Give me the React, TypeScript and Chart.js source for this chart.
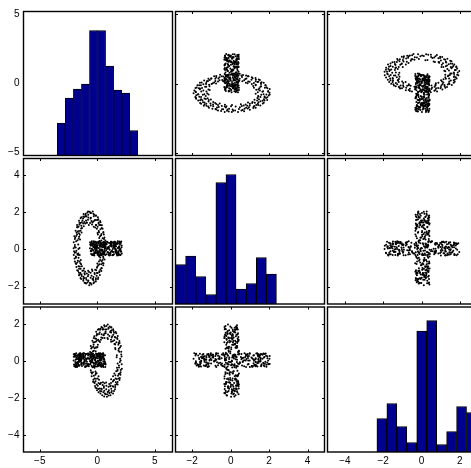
import React, { useEffect, useRef } from 'react';
import { Chart, registerables } from 'chart.js';

Chart.register(...registerables);

// ---------- tick labels / axis limits ----------
const COL_TICKS = [[-5, 0, 5], [-2, 0, 2, 4], [-4, -2, 0, 2]];
const ROW_TICKS = [[-5, 0, 5], [-2, 0, 2, 4], [-4, -2, 0, 2]];
const COL_LIMITS = [[-6.42, 6.54], [-2.87, 4.88], [-4.91, 2.87]];
const ROW_LIMITS = [[-5.2, 5.2], [-2.94, 4.88], [-4.91, 2.91]];

// ---------- histograms (diagonal) ----------
const HIST1_CENTERS = [-3.13, -2.43, -1.73, -1.03, -0.33, 0.37, 1.07, 1.77, 2.47, 3.17];
const HIST1_COUNTS = [65, 115, 133, 143, 250, 250, 179, 131, 125, 50];
const HIST2_CENTERS = [-2.6075, -2.0825, -1.5575, -1.0325, -0.5075, 0.0175, 0.5425, 1.0675, 1.5925, 2.1175];
const HIST2_COUNTS = [79, 96, 55, 19, 243, 259, 30, 41, 93, 60];
const HIST3_CENTERS = [-2.07, -1.55, -1.03, -0.51, 0.01, 0.53, 1.05, 1.57, 2.09, 2.61];
const HIST3_COUNTS = [67, 97, 51, 19, 242, 263, 15, 41, 91, 79];
const HIST_MAX = [288, 291, 290];

// ---------- scatter data: ring A  [X2, X1] pairs + X3 ----------
const RING_A: number[][] = [
  [2.02,-0.66],[1.86,-0.79],[1.41,-0.63],[1.95,-0.55],[1.30,-0.74],
  [2.03,-0.40],[1.69,-0.56],[1.33,-0.46],[1.78,-0.31],[1.52,-0.51],
  [1.86,-0.27],[1.55,-0.24],[1.21,-0.31],[1.80,-0.12],[1.49,-0.35],
  [1.72,0.05],[1.58,-0.03],[1.17,-0.18],[1.61,0.09],[1.30,-0.13],
  [1.52,0.25],[1.39,0.11],[1.10,-0.04],[1.44,0.12],[1.21,0.03],
  [1.29,0.40],[1.08,0.27],[0.99,0.12],[1.31,0.29],[0.88,0.02],
  [1.10,0.46],[0.82,0.36],[0.79,0.05],[0.93,0.53],[0.70,0.24],
  [0.80,0.57],[0.59,0.47],[0.61,0.17],[0.64,0.62],[0.45,0.19],
  [0.47,0.70],[0.29,0.52],[0.37,0.29],[0.33,0.61],[0.24,0.39],
  [0.08,0.72],[0.17,0.57],[-0.02,0.25],[0.01,0.64],[0.14,0.22],
  [-0.31,0.69],[-0.14,0.47],[-0.23,0.28],[-0.18,0.60],[-0.27,0.37],
  [-0.55,0.63],[-0.58,0.45],[-0.44,0.26],[-0.47,0.53],[-0.39,0.16],
  [-0.86,0.52],[-0.80,0.34],[-0.66,0.14],[-0.75,0.45],[-0.58,0.24],
  [-1.16,0.35],[-1.09,0.26],[-0.86,0.08],[-1.02,0.37],[-0.76,0.00],
  [-1.38,0.22],[-1.27,0.03],[-0.99,-0.03],[-1.24,0.17],[-1.12,-0.09],
  [-1.60,0.06],[-1.42,-0.06],[-1.10,-0.19],[-1.55,-0.12],[-1.27,-0.24],
  [-1.77,-0.28],[-1.49,-0.33],[-1.16,-0.43],[-1.73,-0.13],[-1.09,-0.47],
  [-1.89,-0.51],[-1.60,-0.42],[-1.26,-0.58],[-1.66,-0.35],[-1.42,-0.50],
  [-1.93,-0.70],[-1.68,-0.78],[-1.22,-0.72],[-1.81,-0.64],[-1.15,-0.80],
  [-1.84,-0.98],[-1.63,-0.95],[-1.30,-0.91],[-1.79,-0.85],[-1.45,-0.82],
  [-1.80,-1.11],[-1.54,-1.14],[-1.20,-1.06],[-1.69,-1.22],[-1.36,-1.09],
  [-1.59,-1.40],[-1.47,-1.21],[-1.14,-1.20],[-1.44,-1.36],[-1.03,-1.15],
  [-1.40,-1.60],[-1.27,-1.47],[-0.91,-1.34],[-1.36,-1.52],[-1.15,-1.30],
  [-1.13,-1.75],[-1.04,-1.59],[-0.81,-1.41],[-1.17,-1.67],[-0.92,-1.52],
  [-0.95,-1.82],[-0.71,-1.74],[-0.66,-1.55],[-0.79,-1.84],[-0.57,-1.44],
  [-0.66,-1.95],[-0.45,-1.86],[-0.46,-1.63],[-0.50,-1.98],[-0.30,-1.53],
  [-0.31,-2.05],[-0.16,-1.87],[-0.22,-1.65],[-0.19,-1.97],[-0.25,-1.74],
  [0.06,-2.06],[0.10,-1.88],[0.02,-1.64],[0.13,-1.96],[0.07,-1.55],
  [0.38,-2.05],[0.43,-1.84],[0.26,-1.66],
  [0.70,-2.00],[0.72,-1.83],[0.58,-1.62],[0.62,-1.92],[0.53,-1.50],
  [1.00,-1.89],[0.95,-1.72],[0.78,-1.52],[0.89,-1.80],[0.86,-1.60],
  [1.30,-1.76],[1.23,-1.63],[1.00,-1.46],[1.19,-1.70],[0.90,-1.37],
  [1.54,-1.59],[1.41,-1.47],[1.14,-1.33],[1.43,-1.55],[1.26,-1.39],
  [1.72,-1.39],[1.55,-1.29],[1.24,-1.18],[1.66,-1.24],[1.38,-1.23],
  [1.90,-1.19],[1.73,-1.14],[1.39,-1.05],[1.84,-1.05],[1.55,-0.98],
  [1.98,-0.86],[1.77,-0.94],[1.43,-0.90],[1.91,-1.00],[1.59,-0.81],
  [1.65,-0.59],[1.95,-0.60],[1.44,-0.43],[1.91,-0.34],[1.58,-0.19],[1.82,-0.12],
  [1.30,-0.09],[1.57,0.04],[1.30,0.17],[1.46,0.28],[0.91,0.15],[1.14,0.38],
  [0.76,0.33],[0.89,0.52],[0.47,0.35],[0.56,0.58],[0.22,0.50],[0.24,0.67],
  [-0.07,0.41],[-0.10,0.63],[-0.39,0.51],[-0.31,0.29],[-0.64,0.37],[-0.75,0.54],
  [-0.80,0.18],[-1.00,0.37],[-1.18,0.18],[-0.93,0.01],[-1.28,-0.03],[-1.51,0.08],
  [-1.33,-0.23],[-1.64,-0.13],[-1.60,-0.37],[-1.83,-0.33],[-1.53,-0.58],[-1.83,-0.57],
  [-1.71,-0.79],[-1.37,-0.77],[-1.54,-0.98],[-1.81,-1.03],[-1.29,-1.12],[-1.59,-1.21],
  [-1.36,-1.37],[-1.54,-1.46],[-1.05,-1.45],[-1.26,-1.60],[-0.91,-1.64],[-0.75,-1.48],
  [-0.62,-1.69],[-0.75,-1.88],[-0.39,-1.86],[-0.31,-1.67],[-0.08,-1.82],[-0.10,-2.02],
  [0.23,-1.95],[0.48,-1.72],[0.56,-1.95],[0.80,-1.76],[0.68,-1.58],
  [0.99,-1.59],[1.18,-1.77],[1.33,-1.55],[1.12,-1.40],[1.45,-1.35],[1.67,-1.45],
  [1.47,-1.13],[1.76,-1.22],[1.76,-0.99],[1.44,-0.93],[1.71,-0.78],[2.03,-0.80],
];
const RING_A_X3 = [
  0.12,-0.21,0.35,0.02,-0.28,0.27,-0.09,0.40,-0.15,0.18,
  -0.31,0.06,0.31,-0.04,0.22,-0.25,0.38,0.09,-0.18,0.14,
  0.29,-0.12,-0.30,0.33,0.01,-0.22,0.19,0.41,-0.07,0.25,
  -0.27,0.11,0.36,-0.17,0.04,0.30,-0.24,0.16,-0.02,0.39,
  -0.13,0.23,-0.29,0.07,0.34,-0.19,0.13,0.42,-0.06,0.20,
  -0.32,0.28,0.05,-0.16,0.37,-0.10,0.24,-0.26,0.15,0.32,
  -0.03,0.10,-0.23,0.40,0.17,-0.30,0.26,0.00,-0.14,0.35,
  0.08,-0.20,0.31,-0.08,0.21,-0.28,0.38,0.03,-0.11,0.27,
  -0.25,0.14,0.33,-0.18,0.06,0.41,-0.05,0.19,-0.31,0.24,
  0.12,-0.22,0.36,-0.01,0.29,-0.15,0.09,-0.27,0.39,0.16,
  -0.09,0.22,-0.32,0.30,0.04,-0.19,0.34,-0.12,0.18,0.42,
  -0.24,0.07,0.26,-0.04,0.37,-0.29,0.13,0.01,-0.17,0.32,
  0.20,-0.07,0.40,-0.26,0.11,0.28,-0.14,0.35,-0.21,0.05,
  0.23,-0.30,0.17,0.38,-0.10,0.02,0.31,-0.23,0.25,-0.02,
  0.36,-0.16,0.09,-0.28,0.41,0.14,-0.06,0.21,-0.32,0.27,
  0.03,-0.19,0.33,0.10,-0.25,0.39,-0.12,0.16,-0.03,0.30,
  -0.27,0.24,0.06,-0.14,0.35,-0.21,0.12,0.42,-0.08,0.19,
  -0.30,0.28,0.00,-0.17,0.37,-0.04,0.15,-0.24,
  0.33,-0.18,0.07,0.26,-0.29,0.40,-0.06,0.15,-0.23,0.36,
  0.02,-0.31,0.21,0.38,-0.12,0.09,-0.26,0.31,0.18,-0.04,
  0.42,-0.20,0.12,-0.33,0.27,0.05,-0.15,0.35,-0.08,0.23,
  -0.27,0.16,0.39,-0.11,0.01,0.29,-0.22,0.13,-0.30,0.37,
  0.08,-0.16,0.25,-0.02,0.34,-0.25,0.19,0.41,-0.13,0.06,
  -0.28,0.32,0.10,-0.19,0.24,-0.07,0.38,-0.32,0.17,0.03,
  0.30,-0.24,0.14,-0.10,0.36,-0.01,0.22,-0.29,0.11,0.40,
  -0.17,
];

// ---------- scatter data: ring B  [X3, X1] pairs + X2 ----------
const RING_B: number[][] = [
  [1.97,0.91],[1.69,0.80],[1.24,0.88],[1.74,0.97],[1.50,0.73],
  [1.86,1.08],[1.56,1.11],[1.35,1.05],[1.81,1.19],[1.19,0.92],
  [1.71,1.38],[1.53,1.20],[1.14,1.19],[1.66,1.26],[1.27,1.25],
  [1.56,1.60],[1.42,1.39],[1.06,1.35],[1.52,1.45],[1.04,1.20],
  [1.35,1.78],[1.27,1.57],[0.92,1.49],[1.24,1.72],[1.12,1.47],
  [1.08,1.92],[1.01,1.66],[0.70,1.55],[0.97,1.85],[0.89,1.55],
  [0.80,2.05],[0.66,1.87],[0.63,1.58],[0.73,1.97],
  [0.49,2.08],[0.50,1.91],[0.31,1.70],
  [0.24,2.11],[0.12,1.99],[0.20,1.68],
  [-0.18,2.12],[-0.06,1.96],[-0.14,1.77],
  [-0.42,2.13],[-0.35,1.89],[-0.37,1.71],[-0.49,2.04],
  [-0.75,2.01],[-0.70,1.86],[-0.56,1.64],[-0.67,1.96],[-0.53,1.75],
  [-1.03,1.93],[-0.97,1.70],[-0.77,1.57],[-0.94,1.86],[-0.68,1.48],
  [-1.27,1.77],[-1.15,1.61],[-0.82,1.37],[-1.24,1.69],[-1.03,1.45],
  [-1.52,1.54],[-1.39,1.41],[-1.11,1.35],[-1.41,1.56],[-0.98,1.20],
  [-1.75,1.37],[-1.50,1.21],[-1.19,1.19],[-1.62,1.26],[-1.33,1.16],
  [-1.85,1.14],[-1.58,1.01],[-1.24,1.04],[-1.73,1.05],[-1.39,0.98],
  [-1.93,0.84],[-1.68,0.90],[-1.34,0.79],[-1.80,0.85],[-1.16,0.77],
  [-1.92,0.60],[-1.61,0.61],[-1.20,0.63],[-1.76,0.66],[-1.44,0.57],
  [-1.85,0.43],[-1.51,0.39],[-1.29,0.46],[-1.64,0.36],[-1.15,0.49],
  [-1.69,0.11],[-1.49,0.21],[-1.18,0.32],[-1.62,0.24],[-1.23,0.26],
  [-1.58,-0.02],[-1.34,0.04],[-1.01,0.15],[-1.47,-0.05],[-1.19,0.11],
  [-1.35,-0.20],[-1.09,-0.15],[-0.95,0.03],[-1.19,-0.23],[-0.83,0.11],
  [-1.12,-0.37],[-0.94,-0.24],[-0.66,-0.06],[-1.02,-0.34],[-0.75,-0.16],
  [-0.82,-0.49],[-0.61,-0.38],[-0.57,-0.16],[-0.67,-0.47],
  [-0.50,-0.57],[-0.34,-0.42],[-0.37,-0.24],
  [-0.18,-0.64],[-0.06,-0.47],[-0.13,-0.23],
  [0.24,-0.62],[0.12,-0.45],[0.19,-0.24],
  [0.48,-0.63],[0.51,-0.39],[0.32,-0.23],[0.44,-0.54],
  [0.81,-0.57],[0.76,-0.35],[0.52,-0.14],[0.73,-0.47],[0.68,-0.24],
  [1.09,-0.43],[1.01,-0.26],[0.73,-0.07],[0.99,-0.35],[0.75,0.01],
  [1.33,-0.26],[1.20,-0.11],[0.88,0.05],[1.21,-0.19],[1.10,-0.04],
  [1.58,-0.10],[1.43,0.02],[1.07,0.15],[1.46,-0.03],[1.02,0.23],
  [1.73,0.13],[1.53,0.21],[1.15,0.31],[1.68,0.24],[1.27,0.35],
  [1.83,0.36],[1.69,0.47],[1.24,0.46],[1.79,0.45],[1.38,0.52],
  [1.92,0.60],[1.70,0.69],[1.24,0.63],[1.86,0.64],[1.48,0.62],
  [1.57,0.72],[1.89,0.79],[1.43,0.93],[1.79,0.98],[1.61,1.17],[1.82,1.23],
  [1.33,1.30],[1.61,1.42],[1.29,1.52],[1.50,1.65],[0.92,1.53],[1.18,1.75],
  [0.88,1.83],[0.97,1.94],[0.57,1.84],[0.35,2.08],[0.03,2.03],[-0.24,1.88],
  [-0.61,2.03],[-0.47,1.76],[-0.80,1.80],[-0.92,1.96],[-0.94,1.59],[-1.13,1.76],
  [-1.29,1.56],[-1.05,1.41],[-1.36,1.34],[-1.62,1.45],[-1.37,1.12],[-1.70,1.21],
  [-1.65,0.97],[-1.86,0.99],[-1.53,0.78],[-1.79,0.71],[-1.69,0.53],[-1.37,0.57],
  [-1.50,0.34],[-1.76,0.27],[-1.24,0.21],[-1.51,0.10],[-1.27,-0.05],[-1.44,-0.15],
  [-0.96,-0.12],[-1.15,-0.28],[-0.80,-0.30],[-0.66,-0.13],[-0.61,-0.54],[-0.27,-0.49],
  [0.05,-0.44],[0.35,-0.56],[0.55,-0.30],[0.67,-0.53],[0.87,-0.32],[0.73,-0.14],
  [1.04,-0.13],[1.24,-0.31],[1.37,-0.07],[1.14,0.07],[1.45,0.15],[1.68,0.05],
  [1.44,0.37],[1.74,0.29],[1.71,0.53],[1.40,0.57],
];
const RING_B_X2 = [
  -0.14,0.27,0.05,-0.29,0.38,-0.02,0.19,-0.22,0.33,0.10,
  -0.31,0.24,0.41,-0.08,0.15,-0.18,0.30,0.01,-0.26,0.36,
  0.07,-0.12,0.22,-0.33,0.40,0.13,-0.05,0.28,-0.20,0.18,
  0.34,-0.27,0.03,0.25,-0.10,0.42,-0.16,0.11,-0.30,0.31,
  0.20,-0.04,0.37,-0.23,0.08,0.29,-0.13,0.39,-0.28,0.16,
  -0.07,0.35,0.00,-0.19,0.26,-0.32,0.12,0.43,-0.09,0.21,
  -0.25,0.32,0.06,-0.15,0.38,-0.01,0.23,-0.29,0.17,0.40,
  -0.11,0.27,-0.21,0.09,0.34,-0.33,0.14,0.02,-0.17,0.30,
  0.41,-0.06,0.19,-0.26,0.36,0.04,-0.12,0.25,-0.31,0.11,
  0.33,-0.20,0.07,0.42,-0.03,0.22,-0.28,0.15,0.37,-0.09,
  0.28,-0.24,0.01,0.39,-0.14,0.18,-0.32,0.31,0.10,-0.18,
  0.24,-0.05,0.35,-0.27,0.13,0.43,-0.10,0.20,-0.22,0.05,
  0.32,-0.16,0.26,-0.30,0.08,0.38,-0.02,0.17,-0.25,0.29,
  -0.08,0.41,0.03,-0.19,0.23,-0.33,0.34,0.12,-0.13,0.27,
  0.06,-0.23,0.36,-0.07,0.19,-0.29,0.40,0.09,-0.15,0.31,
  0.00,-0.21,0.25,0.14,-0.32,0.37,-0.04,0.21,-0.26,0.33,
  0.11,-0.11,0.28,-0.18,
  0.18,-0.27,0.36,0.04,-0.15,0.29,-0.32,0.11,0.40,-0.06,
  0.23,-0.21,0.08,0.34,-0.11,0.42,-0.29,0.15,0.01,-0.18,
  0.31,-0.03,0.26,-0.24,0.38,0.09,-0.13,0.20,-0.30,0.35,
  0.06,-0.19,0.28,0.13,-0.26,0.41,-0.08,0.17,-0.33,0.32,
  0.02,-0.14,0.24,-0.22,0.37,0.10,-0.05,0.30,-0.28,0.19,
  0.43,-0.10,0.14,-0.20,0.27,-0.31,0.07,0.39,-0.16,0.22,
  -0.01,0.33,-0.25,0.12,
];

// ---------- layout (pixels) ----------
const W = 480;
const H = 468;
const BOX_X = [[23.5, 172.5], [175.5, 324.5], [327.5, 476.5]];
const BOX_Y = [[11.5, 155.5], [158.5, 304], [307, 452]];
const FONT = '"Liberation Sans", Arial, Helvetica, sans-serif';
const TICK_LEN = 2.5;

Chart.defaults.font.family = FONT;

const fmt = (v: number) => (v < 0 ? '\u2212' + Math.abs(v) : String(v));

// variable k (0=X1, 1=X2, 2=X3) of point i in ring A / B
const varA = (k: number, i: number) => (k === 0 ? RING_A[i][1] : k === 1 ? RING_A[i][0] : RING_A_X3[i] ?? 0);
const varB = (k: number, i: number) => (k === 0 ? RING_B[i][1] : k === 2 ? RING_B[i][0] : RING_B_X2[i] ?? 0);

function scatterPoints(r: number, c: number) {
  const pts: { x: number; y: number }[] = [];
  for (let i = 0; i < RING_A.length; i++) pts.push({ x: varA(c, i), y: varA(r, i) });
  for (let i = 0; i < RING_B.length; i++) pts.push({ x: varB(c, i), y: varB(r, i) });
  return pts;
}

function framePlugin(r: number, c: number) {
  return {
    id: 'frame' + r + c,
    afterDraw(chart: any) {
      const { ctx, chartArea: a } = chart;
      const xs = chart.scales.x;
      const ys = chart.scales.y;
      ctx.save();
      ctx.strokeStyle = '#000';
      ctx.lineWidth = 1.4;
      ctx.strokeRect(a.left, a.top, a.right - a.left, a.bottom - a.top);
      if (r !== c) {
        ctx.lineWidth = 1;
        ctx.beginPath();
        for (const v of COL_TICKS[c]) {
          const px = Math.round(xs.getPixelForValue(v)) + 0.5;
          ctx.moveTo(px, a.top);
          ctx.lineTo(px, a.top + TICK_LEN);
          ctx.moveTo(px, a.bottom);
          ctx.lineTo(px, a.bottom - TICK_LEN);
        }
        for (const v of ROW_TICKS[r]) {
          const py = Math.round(ys.getPixelForValue(v)) + 0.5;
          ctx.moveTo(a.left, py);
          ctx.lineTo(a.left + TICK_LEN, py);
          ctx.moveTo(a.right, py);
          ctx.lineTo(a.right - TICK_LEN, py);
        }
        ctx.stroke();
      }
      ctx.restore();
    },
  };
}

function makeConfig(r: number, c: number): any {
  const tickFont = { family: FONT, size: 10 };
  const xScale: any = {
    type: 'linear',
    position: 'bottom',
    min: COL_LIMITS[c][0],
    max: COL_LIMITS[c][1],
    offset: false,
    display: r === 2,
    grid: { display: false, drawTicks: false },
    border: { display: false },
    ticks: { font: tickFont, color: '#000', padding: 3, maxRotation: 0, autoSkip: false, callback: (v: number) => fmt(v) },
    afterBuildTicks: (s: any) => { s.ticks = COL_TICKS[c].map((v) => ({ value: v })); },
    afterFit: (s: any) => { s.height = r === 2 ? H - BOX_Y[2][1] : 0; },
  };
  const yScale: any = {
    type: 'linear',
    position: 'left',
    min: ROW_LIMITS[r][0],
    max: ROW_LIMITS[r][1],
    display: c === 0,
    grid: { display: false, drawTicks: false },
    border: { display: false },
    ticks: { font: tickFont, color: '#000', padding: 4, autoSkip: false, callback: (v: number) => fmt(v) },
    afterBuildTicks: (s: any) => { s.ticks = ROW_TICKS[r].map((v) => ({ value: v })); },
    afterFit: (s: any) => { s.width = c === 0 ? BOX_X[0][0] : 0; },
  };
  const layout = {
    padding: {
      left: c === 0 ? 0 : BOX_X[c][0],
      right: W - BOX_X[c][1],
      top: BOX_Y[r][0],
      bottom: r === 2 ? 0 : H - BOX_Y[r][1],
    },
  };
  const common = {
    responsive: false,
    animation: false,
    devicePixelRatio: 1,
    events: [],
    layout,
    plugins: { legend: { display: false }, tooltip: { enabled: false } },
  };
  if (r === c) {
    const centers = [HIST1_CENTERS, HIST2_CENTERS, HIST3_CENTERS][r];
    const counts = [HIST1_COUNTS, HIST2_COUNTS, HIST3_COUNTS][r];
    return {
      type: 'bar',
      data: {
        datasets: [{
          data: centers.map((x, i) => ({ x, y: counts[i] })),
          xAxisID: 'x',
          yAxisID: 'yh',
          backgroundColor: '#00008F',
          borderColor: '#000',
          borderWidth: 1,
          barPercentage: 1,
          categoryPercentage: 1,
        }],
      },
      options: {
        ...common,
        scales: {
          x: xScale,
          y: yScale,
          yh: { type: 'linear', display: false, min: 0, max: HIST_MAX[r] },
        },
      },
      plugins: [framePlugin(r, c)],
    };
  }
  return {
    type: 'scatter',
    data: {
      datasets: [{
        data: scatterPoints(r, c),
        pointRadius: 1,
        pointHoverRadius: 1,
        pointBorderWidth: 0,
        pointBackgroundColor: '#000',
        borderColor: '#000',
        showLine: false,
      }],
    },
    options: { ...common, scales: { x: xScale, y: yScale } },
    plugins: [framePlugin(r, c)],
  };
}

export default function App() {
  const refs = useRef<(HTMLCanvasElement | null)[]>([]);
  useEffect(() => {
    const charts: Chart[] = [];
    for (let r = 0; r < 3; r++) {
      for (let c = 0; c < 3; c++) {
        const cv = refs.current[r * 3 + c];
        if (cv) charts.push(new Chart(cv, makeConfig(r, c)));
      }
    }
    return () => charts.forEach((ch) => ch.destroy());
  }, []);
  return (
    <div style={{ position: 'fixed', left: 0, top: 0, width: 471, height: 468, overflow: 'hidden', background: '#fff' }}>
      {Array.from({ length: 9 }).map((_, i) => (
        <canvas
          key={i}
          ref={(el) => { refs.current[i] = el; }}
          width={W}
          height={H}
          style={{ position: 'absolute', left: 0, top: 0, width: W, height: H }}
        />
      ))}
    </div>
  );
}
